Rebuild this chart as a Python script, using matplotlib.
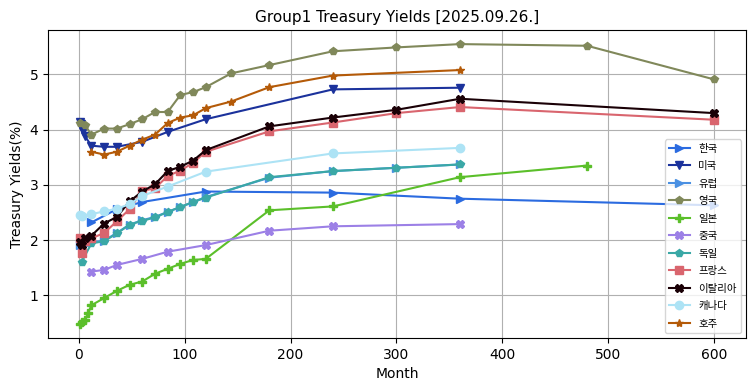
import matplotlib
matplotlib.use("Agg")
import matplotlib.pyplot as plt

plt.rcParams['font.family'] = ['DejaVu Sans', 'Noto Sans CJK KR']

kr_m = [12, 36, 60, 120, 240, 360, 600]
kr_v = [2.32, 2.56, 2.69, 2.88, 2.86, 2.75, 2.63]

us_m = [1, 2, 3, 4, 6, 12, 24, 36, 60, 84, 120, 240, 360]
us_v = [4.14, 4.11, 4.03, 3.97, 3.88, 3.71, 3.69, 3.69, 3.78, 3.96, 4.19, 4.73, 4.76]

eu_m = [1, 3, 6, 12, 24, 36, 48, 60, 72, 84, 96, 108, 120, 180, 240, 300, 360]
eu_v = [1.91, 1.92, 1.94, 1.96, 1.99, 2.13, 2.28, 2.36, 2.42, 2.51, 2.60, 2.69, 2.78, 3.13, 3.25, 3.31, 3.37]

uk_m = [1, 6, 12, 24, 36, 48, 60, 72, 84, 96, 108, 120, 144, 180, 240, 300, 360, 480, 600]
uk_v = [4.12, 4.08, 3.91, 4.02, 4.02, 4.10, 4.19, 4.32, 4.32, 4.63, 4.68, 4.77, 5.02, 5.17, 5.42, 5.49, 5.55, 5.52, 4.91]

jp_m = [1, 3, 6, 9, 12, 24, 36, 48, 60, 72, 84, 96, 108, 120, 180, 240, 360, 480]
jp_v = [0.48, 0.51, 0.55, 0.68, 0.82, 0.95, 1.08, 1.19, 1.25, 1.39, 1.48, 1.57, 1.64, 1.66, 2.54, 2.61, 3.14, 3.35]

cn_m = [12, 24, 36, 60, 84, 120, 180, 240, 360]
cn_v = [1.43, 1.46, 1.55, 1.66, 1.79, 1.91, 2.17, 2.25, 2.29]

de_m = [3, 12, 24, 36, 48, 60, 72, 84, 96, 108, 120, 180, 240, 300, 360]
de_v = [1.61, 1.94, 1.98, 2.12, 2.28, 2.35, 2.41, 2.51, 2.60, 2.69, 2.77, 3.14, 3.25, 3.31, 3.37]

fr_m = [1, 3, 6, 12, 24, 36, 48, 60, 72, 84, 96, 108, 120, 180, 240, 300, 360, 600]
fr_v = [2.04, 1.76, 1.98, 2.03, 2.13, 2.34, 2.56, 2.89, 2.94, 3.16, 3.26, 3.40, 3.60, 3.97, 4.13, 4.30, 4.41, 4.18]

it_m = [1, 3, 6, 12, 24, 36, 48, 60, 72, 84, 96, 108, 120, 180, 240, 300, 360, 600]
it_v = [1.96, 1.92, 2.04, 2.08, 2.30, 2.42, 2.70, 2.88, 3.01, 3.25, 3.33, 3.44, 3.63, 4.06, 4.22, 4.36, 4.56, 4.30]

ca_m = [1, 3, 12, 24, 36, 48, 60, 84, 120, 240, 360]
ca_v = [2.45, 2.44, 2.47, 2.52, 2.57, 2.65, 2.80, 2.97, 3.24, 3.57, 3.67]

au_m = [12, 24, 36, 48, 60, 72, 84, 96, 108, 120, 144, 180, 240, 360]
au_v = [3.60, 3.55, 3.60, 3.71, 3.82, 3.91, 4.12, 4.22, 4.26, 4.39, 4.51, 4.77, 4.98, 5.08]

series = [
    ('한국', kr_m, kr_v, '>', '#2b6be0'),
    ('미국', us_m, us_v, 'v', '#1b329c'),
    ('유럽', eu_m, eu_v, '>', '#4a90e2'),
    ('영국', uk_m, uk_v, 'p', '#80885a'),
    ('일본', jp_m, jp_v, 'P', '#5bbf2a'),
    ('중국', cn_m, cn_v, 'X', '#9c80e6'),
    ('독일', de_m, de_v, 'p', '#3aa8a6'),
    ('프랑스', fr_m, fr_v, 's', '#d9656e'),
    ('이탈리아', it_m, it_v, 'X', '#1a0006'),
    ('캐나다', ca_m, ca_v, 'o', '#ade3f5'),
    ('호주', au_m, au_v, '*', '#b45a08'),
]

fig = plt.figure(figsize=(7.55, 3.91), dpi=100)
ax = fig.add_axes([0.0636, 0.1355, 0.9244, 0.7875])
for name, m, v, mk, c in series:
    ax.plot(m, v, marker=mk, color=c, label=name, linewidth=1.5, markersize=6)

ax.grid(True, color='#b0b0b0', linewidth=0.8)
ax.set_title('Group1 Treasury Yields [2025.09.26.]', fontsize=11)
ax.set_xlabel('Month', fontsize=10)
ax.set_ylabel('Treasury Yields(%)', fontsize=10)
ax.set_xticks([0, 100, 200, 300, 400, 500, 600])
ax.set_yticks([1, 2, 3, 4, 5])
ax.legend(loc='lower right', fontsize=7.5, labelspacing=0.72)

fig.savefig('out.png', dpi=100)
